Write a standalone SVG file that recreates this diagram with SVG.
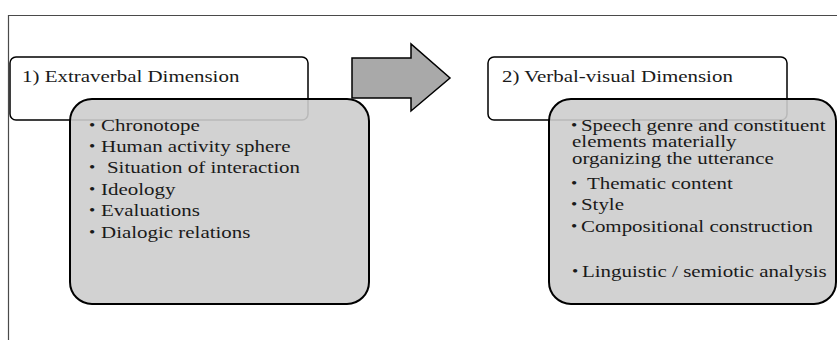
<svg xmlns="http://www.w3.org/2000/svg" width="837" height="340" viewBox="0 0 837 340">
  <style>
    .frame { fill: none; stroke: #4a4a4a; stroke-width: 1.2; }
    .head { fill: #ffffff; stroke: #000000; stroke-width: 1.5; }
    .body { fill: #cdcdcd; fill-opacity: 0.9; stroke: #000000; stroke-width: 2; }
    .arrow { fill: #a9a9a9; stroke: #000000; stroke-width: 1.5; stroke-linejoin: miter; }
    .lbl { font-family: 'Liberation Serif', 'Times New Roman', Times, serif; font-size: 17.6px; fill: #1a1a1a; }
    .blt { font-size: 15px; }
  </style>

  <!-- page frame -->
  <path class="frame" d="M8.5 340 V15.5 H837"/>

  <!-- stage 1: header -->
  <g id="extraverbal-title">
    <rect class="head" x="10" y="57" width="298" height="63" rx="6"/>
    <g class="lbl" font-family="Liberation Serif, serif" transform="scale(1.19 1)">
      <text x="18.5" y="82">1) Extraverbal Dimension</text>
    </g>
  </g>

  <!-- stage 1: items -->
  <g id="extraverbal-items">
    <rect class="body" x="70" y="99" width="299" height="205" rx="22"/>
    <g class="lbl" font-family="Liberation Serif, serif" transform="scale(1.19 1)">
      <text class="blt" x="74.8" y="130">•</text>
      <text x="84.9" y="131">Chronotope</text>
      <text class="blt" x="74.8" y="151">•</text>
      <text x="84.9" y="152">Human activity sphere</text>
      <text class="blt" x="74.8" y="172">•</text>
      <text x="89.9" y="173">Situation of interaction</text>
      <text class="blt" x="74.8" y="194">•</text>
      <text x="84.9" y="195">Ideology</text>
      <text class="blt" x="74.8" y="215">•</text>
      <text x="84.9" y="216">Evaluations</text>
      <text class="blt" x="74.8" y="237">•</text>
      <text x="84.9" y="238">Dialogic relations</text>
    </g>
  </g>

  <!-- transition between the two stages -->
  <g id="connectors">
    <path class="arrow" d="M352 58 H411 V44 L450 78 L411 111 V98 H352 Z"/>
  </g>

  <!-- stage 2: header -->
  <g id="verbal-visual-title">
    <rect class="head" x="488" y="57" width="299" height="63" rx="6"/>
    <g class="lbl" font-family="Liberation Serif, serif" transform="scale(1.19 1)">
      <text x="421.8" y="82">2) Verbal-visual Dimension</text>
    </g>
  </g>

  <!-- stage 2: items -->
  <g id="verbal-visual-items">
    <rect class="body" x="549" y="99" width="287" height="205" rx="22"/>
    <g class="lbl" font-family="Liberation Serif, serif" transform="scale(1.19 1)">
      <text class="blt" x="479.8" y="130">•</text>
      <text x="488.2" y="131">Speech genre and constituent</text>
      <text x="480.7" y="147.5">elements materially</text>
      <text x="480.7" y="164">organizing the utterance</text>
      <text class="blt" x="479.8" y="188">•</text>
      <text x="493.3" y="189">Thematic content</text>
      <text class="blt" x="479.8" y="209">•</text>
      <text x="488.2" y="210">Style</text>
      <text class="blt" x="479.8" y="231">•</text>
      <text x="488.2" y="232">Compositional construction</text>
      <text class="blt" x="480.7" y="276">•</text>
      <text x="489.1" y="277">Linguistic / semiotic analysis</text>
    </g>
  </g>
</svg>
